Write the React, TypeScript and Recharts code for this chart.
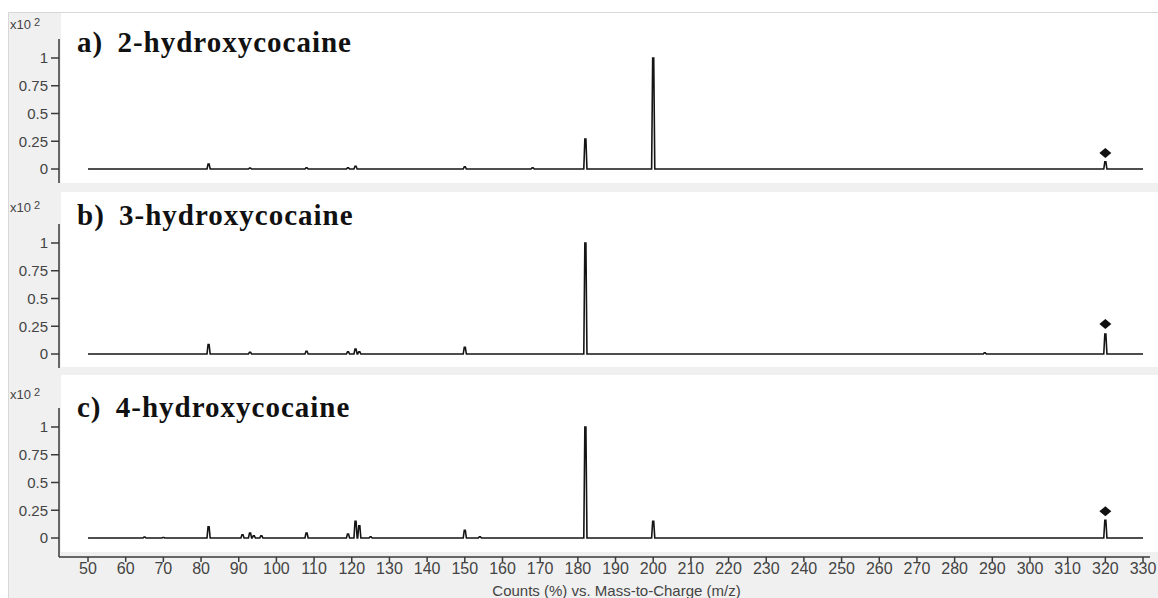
import { ComposedChart, Line, Scatter, XAxis, YAxis } from 'recharts'

// m/z axis ticks and intensity ticks (x10^2 counts)
const mzTicks = [50, 60, 70, 80, 90, 100, 110, 120, 130, 140, 150, 160, 170, 180, 190, 200, 210, 220, 230, 240, 250, 260, 270, 280, 290, 300, 310, 320, 330]
const countTicks = [0, 0.25, 0.5, 0.75, 1]

// a) 2-hydroxycocaine
const mzA = [82, 93, 108, 119, 121, 150, 168, 182, 200, 320]
const countsA = [0.045, 0.008, 0.01, 0.01, 0.025, 0.02, 0.01, 0.27, 1.0, 0.065]
const markerA = [{ mz: 320, counts: 0.145 }]

// b) 3-hydroxycocaine
const mzB = [82, 93, 108, 119, 121, 122, 150, 182, 288, 320]
const countsB = [0.085, 0.015, 0.025, 0.02, 0.045, 0.02, 0.06, 1.0, 0.01, 0.18]
const markerB = [{ mz: 320, counts: 0.27 }]

// c) 4-hydroxycocaine
const mzC = [65, 70, 82, 91, 93, 94, 96, 108, 119, 121, 122, 125, 150, 154, 182, 200, 320]
const countsC = [0.008, 0.005, 0.1, 0.03, 0.045, 0.02, 0.02, 0.045, 0.035, 0.15, 0.11, 0.01, 0.07, 0.01, 1.0, 0.15, 0.16]
const markerC = [{ mz: 320, counts: 0.24 }]

const axisFont = "'Liberation Sans', Arial, sans-serif"
const titleFont = "'Liberation Serif', 'Times New Roman', serif"
const axisColor = '#3a3a3a'

// turn each centroid into a narrow profile peak sitting on the zero baseline
function buildProfile(mz: number[], counts: number[]) {
  const points = [{ mz: 50, counts: 0 }]
  mz.forEach((m, i) => {
    const h = counts[i]
    points.push(
      { mz: m - 0.42, counts: 0 },
      { mz: m - 0.14, counts: h },
      { mz: m + 0.14, counts: h },
      { mz: m + 0.42, counts: 0 },
    )
  })
  points.push({ mz: 330, counts: 0 })
  return points
}

function Diamond(props: any) {
  const { cx, cy } = props
  return <path d={`M${cx},${cy - 5}L${cx + 6},${cy}L${cx},${cy + 5}L${cx - 6},${cy}Z`} fill="#111" />
}

type PanelProps = {
  label: string
  name: string
  mz: number[]
  counts: number[]
  marker: { mz: number; counts: number }[]
  top: number
  height: number
  marginTop: number
  yMin: number
  showXAxis?: boolean
  scaleBaseline: number
  titleBaseline: number
}

function SpectrumPanel(p: PanelProps) {
  const data = buildProfile(p.mz, p.counts)
  return (
    <ComposedChart
      width={1158}
      height={p.height}
      margin={{ top: p.marginTop, right: 8, left: 0, bottom: 0 }}
      style={{ position: 'absolute', left: 0, top: p.top }}
    >
      <XAxis
        type="number"
        dataKey="mz"
        domain={[42.3, 331.85]}
        allowDataOverflow
        ticks={mzTicks}
        interval={0}
        hide={!p.showXAxis}
        height={41}
        tickSize={5}
        tickMargin={1}
        stroke={axisColor}
        strokeWidth={1.5}
        tick={{ fontSize: 16, fill: '#444', fontFamily: axisFont }}
        label={(props: any) => {
          const vb = props.viewBox
          return (
            <text x={vb.x + vb.width / 2 + 12} y={vb.y + 39} textAnchor="middle" fontSize={15} fill="#444" fontFamily={axisFont}>
              Counts (%) vs. Mass-to-Charge (m/z)
            </text>
          )
        }}
      />
      <YAxis
        type="number"
        dataKey="counts"
        width={59}
        domain={[p.yMin, 1.171]}
        allowDataOverflow
        ticks={countTicks}
        interval={0}
        tickSize={8}
        tickMargin={3}
        stroke={axisColor}
        strokeWidth={1.5}
        tick={{ fontSize: 15, fill: '#444', fontFamily: axisFont }}
      />
      <Line
        data={data}
        dataKey="counts"
        type="linear"
        stroke="#151515"
        strokeWidth={1.6}
        dot={false}
        isAnimationActive={false}
      />
      <Scatter data={p.marker} dataKey="counts" shape={Diamond} isAnimationActive={false} />
      <text x={10} y={p.scaleBaseline - p.top} fontSize={13} fill="#444" fontFamily={axisFont}>
        x10
        <tspan dx={3} dy={-3} fontSize={11}>2</tspan>
      </text>
      <text
        x={77}
        y={p.titleBaseline - p.top}
        fontSize={29}
        fontWeight="bold"
        letterSpacing={1}
        fill="#111"
        fontFamily={titleFont}
      >
        {p.label}
        <tspan dx={6}> {p.name}</tspan>
      </text>
    </ComposedChart>
  )
}

export default function App() {
  return (
    <div style={{ position: 'absolute', left: 0, top: 0, width: 1158, height: 598, background: '#fff', overflow: 'hidden' }}>
      <div
        style={{
          position: 'absolute',
          left: 8,
          top: 12,
          width: 1150,
          height: 586,
          background: '#f0f0f0',
          borderTop: '1px solid #d8d8d8',
          borderLeft: '1px solid #d8d8d8',
          boxSizing: 'border-box',
        }}
      />
      <div style={{ position: 'absolute', left: 61, top: 13, width: 1097, height: 170, background: '#fff' }} />
      <div style={{ position: 'absolute', left: 61, top: 192, width: 1097, height: 175, background: '#fff' }} />
      <div style={{ position: 'absolute', left: 61, top: 375, width: 1097, height: 177, background: '#fff' }} />

      <SpectrumPanel
        label="a)"
        name="2-hydroxycocaine"
        mz={mzA}
        counts={countsA}
        marker={markerA}
        top={12}
        height={171}
        marginTop={27}
        yMin={-0.126}
        scaleBaseline={29}
        titleBaseline={52}
      />
      <SpectrumPanel
        label="b)"
        name="3-hydroxycocaine"
        mz={mzB}
        counts={countsB}
        marker={markerB}
        top={190}
        height={178}
        marginTop={34}
        yMin={-0.126}
        scaleBaseline={212}
        titleBaseline={225}
      />
      <SpectrumPanel
        label="c)"
        name="4-hydroxycocaine"
        mz={mzC}
        counts={countsC}
        marker={markerC}
        top={372}
        height={226}
        marginTop={36}
        yMin={-0.171}
        showXAxis
        scaleBaseline={399}
        titleBaseline={417}
      />
    </div>
  )
}
